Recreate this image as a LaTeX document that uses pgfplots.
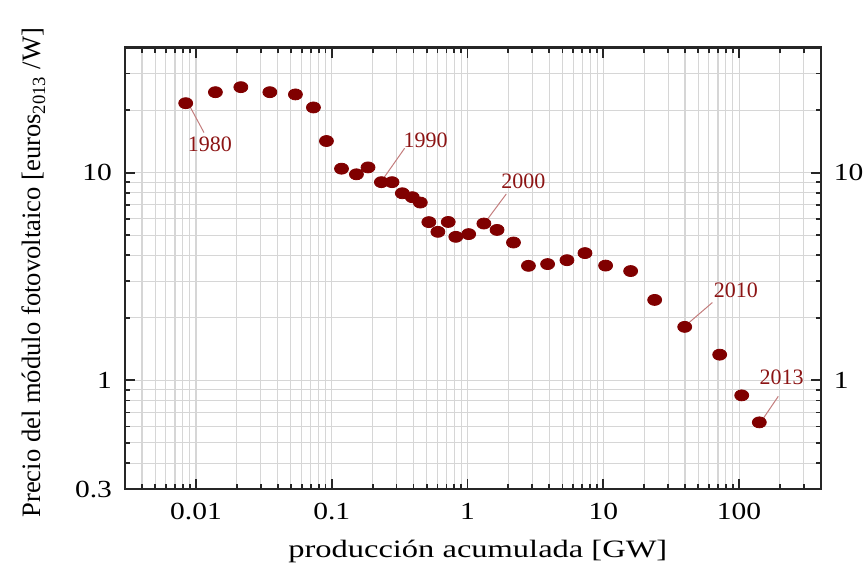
\documentclass[border=0pt]{standalone}
\usepackage{fontspec}
\setmainfont{Liberation Serif}
\newfontfamily\tickfam{Liberation Serif}[FakeStretch=1.2]
\newfontfamily\labfam{Liberation Serif}[FakeStretch=1.3]
\usepackage{pgfplots}
\pgfplotsset{compat=1.18}
\definecolor{ptred}{RGB}{128,0,0}
\definecolor{lead}{RGB}{195,125,125}
\definecolor{anno}{RGB}{140,20,20}

\begin{document}
\begin{tikzpicture}
\begin{axis}[
    name=main,
    scale only axis,
    width=347.9pt, height=220.7pt,
    xmode=log, ymode=log,
    xmin=0.003, xmax=400,
    ymin=0.3, ymax=40,
    clip=false,
    xtick={0.01,0.1,1,10,100},
    xticklabels={0.01,0.1,1,10,100},
    minor xtick={0.003,0.004,0.005,0.006,0.007,0.008,0.009,
                 0.02,0.03,0.04,0.05,0.06,0.07,0.08,0.09,
                 0.2,0.3,0.4,0.5,0.6,0.7,0.8,0.9,
                 2,3,4,5,6,7,8,9,
                 20,30,40,50,60,70,80,90,200,300},
    ytick={0.3,1,10},
    yticklabels={0.3,1,10},
    minor ytick={0.4,0.5,0.6,0.7,0.8,0.9,2,3,4,5,6,7,8,9,20,30},
    grid=both,
    major grid style={black!16, line width=0.55pt},
    minor grid style={black!16, line width=0.55pt},
    axis line style={black!85, line width=1.3pt},
    major tick length=5pt,
    minor tick length=2.5pt,
    tick style={black!85, line width=0.9pt},
    ticklabel style={font=\tickfam\fontsize{12.3}{14}\selectfont},
    xticklabel style={yshift=-3.5pt},
    yticklabel style={xshift=-3pt},
    xlabel={producción acumulada [GW]},
    xlabel style={font=\labfam\fontsize{12.5}{15}\selectfont,
                  at={(axis description cs:0.507,-0.156)}, anchor=base},
    ylabel={Precio del módulo fotovoltaico [euros\textsubscript{2013} /W]},
    ylabel style={font=\fontsize{13.3}{16}\selectfont,
                  at={(axis description cs:-0.121,0.49)}, anchor=base},
]

%-- one point per year, 1980-2013
\addplot[only marks, mark=*, mark size=2.75pt, color=ptred,
         mark options={xscale=1.27}]
coordinates {
    (0.0084,21.6) (0.0139,24.4) (0.0214,25.8) (0.035,24.4)
    (0.054,23.8)  (0.0733,20.6) (0.0914,14.2) (0.118,10.45)
    (0.152,9.82)  (0.185,10.6)  (0.232,9.0)   (0.278,9.0)
    (0.331,7.96)  (0.392,7.62)  (0.449,7.18)  (0.519,5.78)
    (0.605,5.19)  (0.721,5.79)  (0.82,4.91)   (1.02,5.06)
    (1.32,5.69)   (1.65,5.3)    (2.18,4.61)   (2.81,3.56)
    (3.89,3.63)   (5.40,3.79)   (7.33,4.10)   (10.4,3.57)
    (15.9,3.36)   (23.9,2.44)   (39.8,1.81)   (72,1.33)
    (104.6,0.847) (141,0.628)
};

%-- year labels
\draw[lead, line width=0.5pt] (axis cs:0.00903,20.8) -- (axis cs:0.01145,15.6);
\node[anno, font=\fontsize{11}{13}\selectfont] at (axis cs:0.01268,13.7) {1980};
\draw[lead, line width=0.5pt] (axis cs:0.238,9.3) -- (axis cs:0.344,13.1);
\node[anno, font=\fontsize{11}{13}\selectfont] at (axis cs:0.491,14.3) {1990};
\draw[lead, line width=0.5pt] (axis cs:1.39,5.92) -- (axis cs:1.93,7.9);
\node[anno, font=\fontsize{11}{13}\selectfont] at (axis cs:2.58,9.05) {2000};
\draw[lead, line width=0.5pt] (axis cs:42.9,1.90) -- (axis cs:63.6,2.37);
\node[anno, font=\fontsize{11}{13}\selectfont] at (axis cs:94.6,2.71) {2010};
\draw[lead, line width=0.5pt] (axis cs:151,0.657) -- (axis cs:194.5,0.838);
\node[anno, font=\fontsize{11}{13}\selectfont] at (axis cs:206,1.03) {2013};

%-- right-hand tick labels
\node[anchor=west, xshift=3pt, font=\tickfam\fontsize{12.3}{14}\selectfont] at (axis cs:400,10) {10};
\node[anchor=west, xshift=3pt, font=\tickfam\fontsize{12.3}{14}\selectfont] at (axis cs:400,1) {1};
\end{axis}
\pgfresetboundingbox
\path[use as bounding box] (main.south west) ++(-62.5pt,-42.5pt) rectangle ++(433pt,287pt);
\end{tikzpicture}
\end{document}
